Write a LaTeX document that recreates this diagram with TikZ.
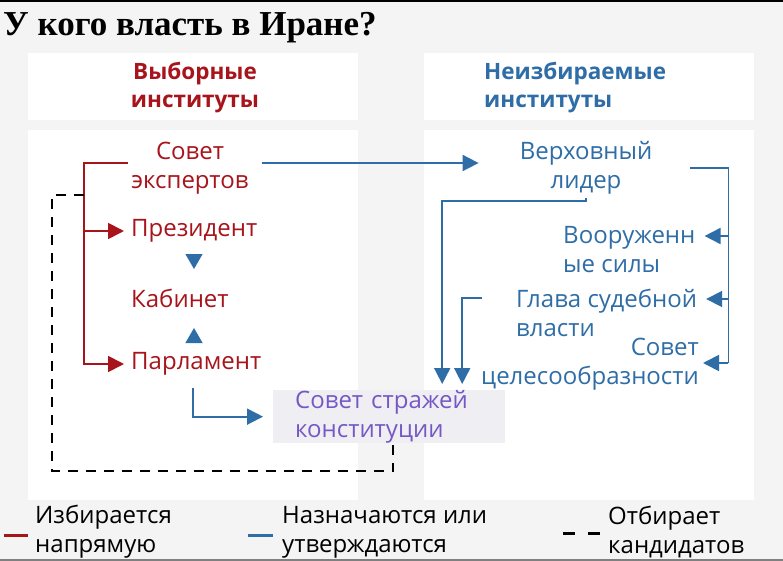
\documentclass[tikz,border=0pt]{standalone}
\usepackage{fontspec}
\setmainfont{Open Sans}
\newfontfamily\titlefont{Liberation Serif}
\usetikzlibrary{arrows.meta,shapes.geometric,calc}
\definecolor{bggrey}{HTML}{F4F4F4}
\definecolor{electred}{HTML}{A8141C}
\definecolor{appblue}{HTML}{2E6DA6}
\definecolor{guardpurple}{HTML}{7658C4}
\definecolor{guardbox}{HTML}{EFEFF3}
\tikzstyle{panel} = [fill=white, inner sep=0pt, anchor=north west]
\tikzstyle{inst} = [font=\fontsize{24}{29}\selectfont, inner sep=3pt]
\tikzstyle{redtext} = [inst, text=electred]
\tikzstyle{bluetext} = [inst, text=appblue]
\tikzstyle{headtext} = [font=\bfseries\fontsize{22.5}{28}\selectfont, inner sep=0pt]
\tikzstyle{legend} = [inst, align=left, anchor=west]
\tikzstyle{redline} = [draw=electred, line width=1.8pt]
\tikzstyle{redarrow} = [redline, -{Triangle[length=16pt,width=16pt]}]
\tikzstyle{blueline} = [draw=appblue, line width=1.8pt]
\tikzstyle{bluearrow} = [blueline, -{Triangle[length=16pt,width=16pt]}]
\tikzstyle{dashline} = [draw=black, line width=1.8pt, dash pattern=on 10pt off 8pt]
\tikzstyle{marker} = [regular polygon, regular polygon sides=3, fill=appblue, inner sep=0pt, minimum size=20pt]
\begin{document}
\begin{tikzpicture}[x=1pt,y=-1pt]
\useasboundingbox (0,0) rectangle (783,561);
\fill[bggrey] (0,0) rectangle (783,561);
\draw[line width=2pt] (0,1) -- (783,1);
\draw[line width=2pt, draw=gray] (0,560) -- (783,560);

\node[anchor=base west, inner sep=0pt, font=\titlefont\bfseries\fontsize{35}{40}\selectfont] (title) at (3,36) {У кого власть в Иране?};

\node[panel, minimum width=330pt, minimum height=67pt] (lhead) at (28,53) {};
\node[panel, minimum width=330pt, minimum height=67pt] (rhead) at (424,53) {};
\node[panel, minimum width=330pt, minimum height=370pt] (lbody) at (28,130) {};
\node[panel, minimum width=330pt, minimum height=370pt] (rbody) at (424,130) {};

\node[headtext, text=electred, align=center] (elected) at (195,88) {Выборные\\институты};
\node[headtext, text=appblue, align=left, anchor=west] (unelected) at (484,88) {Неизбираемые\\институты};

\node[redtext, align=center] (experts) at (190,168) {Совет\\экспертов};
\node[redtext, anchor=west] (president) at (128,231) {Президент};
\node[redtext, anchor=west] (cabinet) at (128,298) {Кабинет};
\node[redtext, anchor=west] (parliament) at (128,364) {Парламент};
\node[marker, shape border rotate=180] (down) at (194,259) {};
\node[marker] (up) at (194,338) {};

\node[bluetext, align=center] (leader) at (586,168) {Верховный\\лидер};
\node[bluetext, align=left, anchor=west] (army) at (560,250) {Вооруженн\\ые силы};
\node[bluetext, align=left, anchor=west] (judiciary) at (513,313) {Глава судебной\\власти};
\node[bluetext, align=right, anchor=east] (expediency) at (702,364) {Совет\\целесообразности};
\node[inst, text=guardpurple, fill=guardbox, anchor=north west, minimum width=232pt, minimum height=52pt, text width=188pt, inner xsep=22pt, inner ysep=0pt, align=left] (guardians) at (273,390) {Совет стражей\\конституции};

\draw[redarrow, shorten >=4pt] ([yshift=5pt]experts.west) -- ++(-44,0) coordinate (fork) |- (parliament.west);
\draw[redarrow, shorten >=4pt] (fork |- president.west) -- (president.west);
\draw[dashline] ($(fork)+(0,32)$) -- ++(-32,0) |- ($(guardians.south)+(4,28)$) -- ($(guardians.south)+(4,0)$);

\draw[bluearrow, shorten >=38pt] ($(experts.east)+(10,-5)$) -- ($(experts.east -| leader.west)+(0,-5)$);
\draw[bluearrow] (leader.south) -- ++(0,3) -| ($(guardians.north)+(53,-6)$);
\draw[bluearrow] ($(judiciary.west)+(-31,-15)$) -| ($(guardians.north)+(73,-6)$);
\draw[bluearrow] ($(parliament.south)+(-3,9)$) |- ($(guardians.west)+(-10,0)$);

\draw[blueline] ($(leader.east)+(35,0)$) -- ++(38,0) coordinate (bracket) -- ($(bracket |- expediency.east)+(0,-1)$);
\draw[bluearrow] ($(bracket |- army.east)+(0,-14)$) -- ($(army.east)+(6,-14)$);
\draw[bluearrow] ($(bracket |- judiciary.east)+(0,-14)$) -- ($(judiciary.east)+(6,-14)$);
\draw[bluearrow] ($(bracket |- expediency.east)+(0,-1)$) -- ($(expediency.east)+(1,-1)$);

\node[legend] (direct) at (32,532) {Избирается\\напрямую};
\node[legend] (appointed) at (279,532) {Назначаются или\\утверждаются};
\node[legend] (vetting) at (605,532) {Отбирает\\кандидатов};
\draw[draw=electred, line width=3pt] ($(direct.west)+(-28,3)$) -- ++(24,0);
\draw[draw=appblue, line width=3pt] ($(appointed.west)+(-31,3)$) -- ++(25,0);
\draw[draw=black, line width=3pt, dash pattern=on 12pt off 13pt] ($(vetting.west)+(-42,1)$) -- ++(38,0);
\end{tikzpicture}
\end{document}
